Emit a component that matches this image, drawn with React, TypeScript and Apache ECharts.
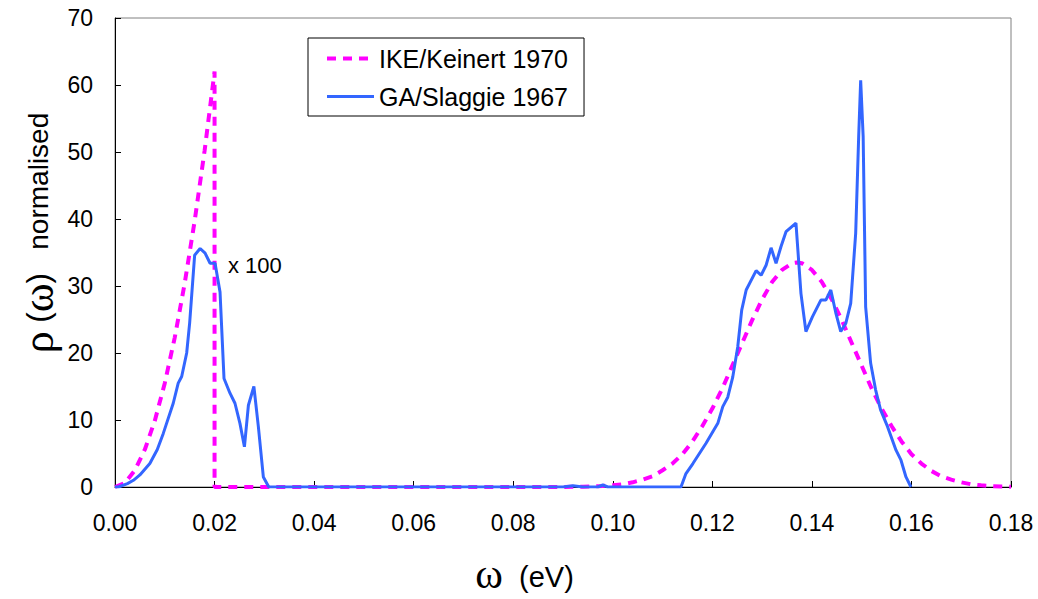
import React, { useEffect, useRef } from "react";
import * as echarts from "echarts";

// IKE/Keinert 1970 (magenta dashed)
const ikeOmega = [
  0.0, 0.002, 0.004, 0.006, 0.008, 0.01, 0.012, 0.014, 0.016, 0.018, 0.02, 0.02,
  0.03, 0.05, 0.07, 0.09, 0.094, 0.096, 0.098, 0.1, 0.102, 0.104, 0.106, 0.108,
  0.11, 0.112, 0.114, 0.116, 0.118, 0.12, 0.122, 0.124, 0.126, 0.128, 0.13,
  0.132, 0.134, 0.136, 0.137, 0.138, 0.14, 0.142, 0.144, 0.146, 0.148, 0.15,
  0.152, 0.154, 0.156, 0.158, 0.16, 0.162, 0.164, 0.166, 0.168, 0.17, 0.172,
  0.174, 0.176, 0.178, 0.18,
];
const ikeRho = [
  0.0, 0.6, 2.5, 5.6, 9.9, 15.5, 22.3, 30.4, 39.7, 50.2, 62.0, 0.0,
  0.0, 0.0, 0.0, 0.0, 0.05, 0.1, 0.15, 0.25, 0.4, 0.7, 1.1, 1.6,
  2.5, 3.5, 4.9, 6.8, 9.1, 11.7, 14.7, 18.1, 21.5, 24.9, 28.0,
  30.6, 32.4, 33.4, 33.5, 33.4, 32.4, 30.6, 28.0, 24.9, 21.5, 18.1,
  14.7, 11.7, 9.1, 6.8, 4.9, 3.5, 2.4, 1.6, 1.1, 0.7, 0.4,
  0.25, 0.14, 0.08, 0.04,
];

// GA/Slaggie 1967 (blue solid)
const gaOmega = [
  0.0, 0.0007, 0.0025, 0.0037, 0.005, 0.007, 0.0085, 0.0097, 0.0117, 0.0127,
  0.0134, 0.0144, 0.015, 0.016, 0.0171, 0.0181, 0.0191, 0.0201, 0.0211, 0.0219,
  0.0231, 0.0241, 0.0251, 0.026, 0.0268, 0.0279, 0.0288, 0.0298, 0.0309, 0.06,
  0.09, 0.092, 0.094, 0.097, 0.098, 0.099, 0.1137, 0.1147, 0.1161, 0.1187,
  0.1211, 0.1221, 0.1231, 0.1241, 0.1251, 0.1259, 0.1268, 0.1288, 0.1298,
  0.1308, 0.1318, 0.1328, 0.1338, 0.1348, 0.1368, 0.1378, 0.1388, 0.1401,
  0.1418, 0.1428, 0.1438, 0.1448, 0.1458, 0.1468, 0.1478, 0.1488, 0.1494,
  0.1498, 0.1503, 0.1508, 0.1518, 0.1528, 0.1538, 0.1552, 0.1569, 0.1579,
  0.1589, 0.1599,
];
const gaRho = [
  0.0, 0.0, 0.5, 1.0, 1.8, 3.5, 5.6, 8.0, 12.5, 15.5,
  16.5, 20.0, 24.5, 34.6, 35.6, 34.9, 33.4, 33.4, 29.1, 16.2,
  14.0, 12.5, 9.5, 6.0, 12.2, 15.0, 9.0, 1.5, 0.0, 0.0,
  0.0, 0.2, 0.0, 0.0, 0.3, 0.0, 0.0, 2.0, 3.5, 6.5,
  9.5, 12.0, 13.4, 16.4, 20.9, 26.4, 29.4, 32.3, 31.6,
  33.1, 35.7, 33.4, 35.9, 38.1, 39.4, 28.9, 23.2, 25.4,
  27.9, 27.9, 29.4, 26.0, 23.2, 24.4, 27.4, 37.9, 52.3,
  60.7, 52.3, 26.9, 18.5, 14.5, 11.5, 9.0, 5.5, 4.0,
  1.5, 0.0,
];

const xTicks = { min: 0, max: 0.18, step: 0.02 };
const yTicks = { min: 0, max: 70, step: 10 };

const zip = (xs: number[], ys: number[]) => xs.map((x, i) => [x, ys[i]]);

export default function App() {
  const ref = useRef<HTMLDivElement>(null);
  useEffect(() => {
    if (!ref.current) return;
    const chart = echarts.init(ref.current, undefined, { renderer: "svg" });
    const sans = "Liberation Sans, Arial, sans-serif";
    const serif = "Liberation Serif, Times New Roman, serif";
    chart.setOption({
      animation: false,
      backgroundColor: "#ffffff",
      grid: {
        left: 115,
        right: 27,
        top: 18,
        bottom: 112,
        show: true,
        borderColor: "#808080",
        borderWidth: 1,
        backgroundColor: "transparent",
      },
      legend: {
        orient: "vertical",
        left: 308,
        top: 38,
        padding: [8, 16, 7, 17],
        itemGap: 13,
        itemWidth: 47,
        itemHeight: 14,
        borderColor: "#000",
        borderWidth: 1,
        backgroundColor: "#fff",
        itemStyle: { opacity: 0 },
        lineStyle: { width: "inherit" },
        textStyle: { fontSize: 25, fontFamily: sans, color: "#000" },
        data: ["IKE/Keinert 1970", "GA/Slaggie 1967"],
      },
      xAxis: {
        type: "value",
        min: xTicks.min,
        max: xTicks.max,
        interval: xTicks.step,
        axisLine: { lineStyle: { color: "#000", width: 1 } },
        axisTick: { inside: true, length: 6, lineStyle: { color: "#000" } },
        splitLine: { show: false },
        axisLabel: {
          fontSize: 23,
          fontFamily: sans,
          color: "#000",
          margin: 24,
          formatter: (v: number) => v.toFixed(2),
        },
      },
      yAxis: {
        type: "value",
        min: yTicks.min,
        max: yTicks.max,
        interval: yTicks.step,
        axisLine: { show: true, lineStyle: { color: "#000", width: 1 } },
        axisTick: { show: true, inside: true, length: 6, lineStyle: { color: "#000" } },
        splitLine: { show: false },
        axisLabel: { fontSize: 23, fontFamily: sans, color: "#000", margin: 22 },
      },
      graphic: [
        {
          type: "text",
          x: 228,
          y: 265,
          style: {
            text: "x 100",
            fontSize: 22,
            fontFamily: sans,
            fill: "#000",
            verticalAlign: "middle",
          },
        },
        {
          type: "text",
          x: 38,
          y: 233,
          rotation: Math.PI / 2,
          style: {
            text: "{g|ρ}{p| (}{g|ω}{p|)}{s|   normalised}",
            align: "center",
            verticalAlign: "middle",
            fill: "#000",
            rich: {
              g: { fontFamily: serif, fontSize: 44, lineHeight: 36, fill: "#000" },
              p: { fontFamily: sans, fontSize: 31, lineHeight: 36, fill: "#000" },
              s: { fontFamily: sans, fontSize: 28, lineHeight: 36, fill: "#000" },
            },
          },
        },
        {
          type: "text",
          x: 503,
          y: 574,
          style: {
            text: "ω",
            align: "right",
            verticalAlign: "middle",
            fontFamily: serif,
            fontSize: 42,
            fill: "#000",
          },
        },
        {
          type: "text",
          x: 519,
          y: 577,
          style: {
            text: "(eV)",
            align: "left",
            verticalAlign: "middle",
            fontFamily: sans,
            fontSize: 29,
            fill: "#000",
          },
        },
      ],
      series: [
        {
          name: "IKE/Keinert 1970",
          type: "line",
          data: zip(ikeOmega, ikeRho),
          symbol: "none",
          lineStyle: { color: "#FF00FF", width: 4, type: [9, 7] },
          itemStyle: { color: "#FF00FF" },
          z: 2,
        },
        {
          name: "GA/Slaggie 1967",
          type: "line",
          data: zip(gaOmega, gaRho),
          symbol: "none",
          lineStyle: { color: "#3366FF", width: 3 },
          itemStyle: { color: "#3366FF" },
          z: 3,
        },
      ],
    });
    return () => chart.dispose();
  }, []);
  return (
    <div
      ref={ref}
      style={{ position: "absolute", left: 0, top: 0, width: 1038, height: 599 }}
    />
  );
}
